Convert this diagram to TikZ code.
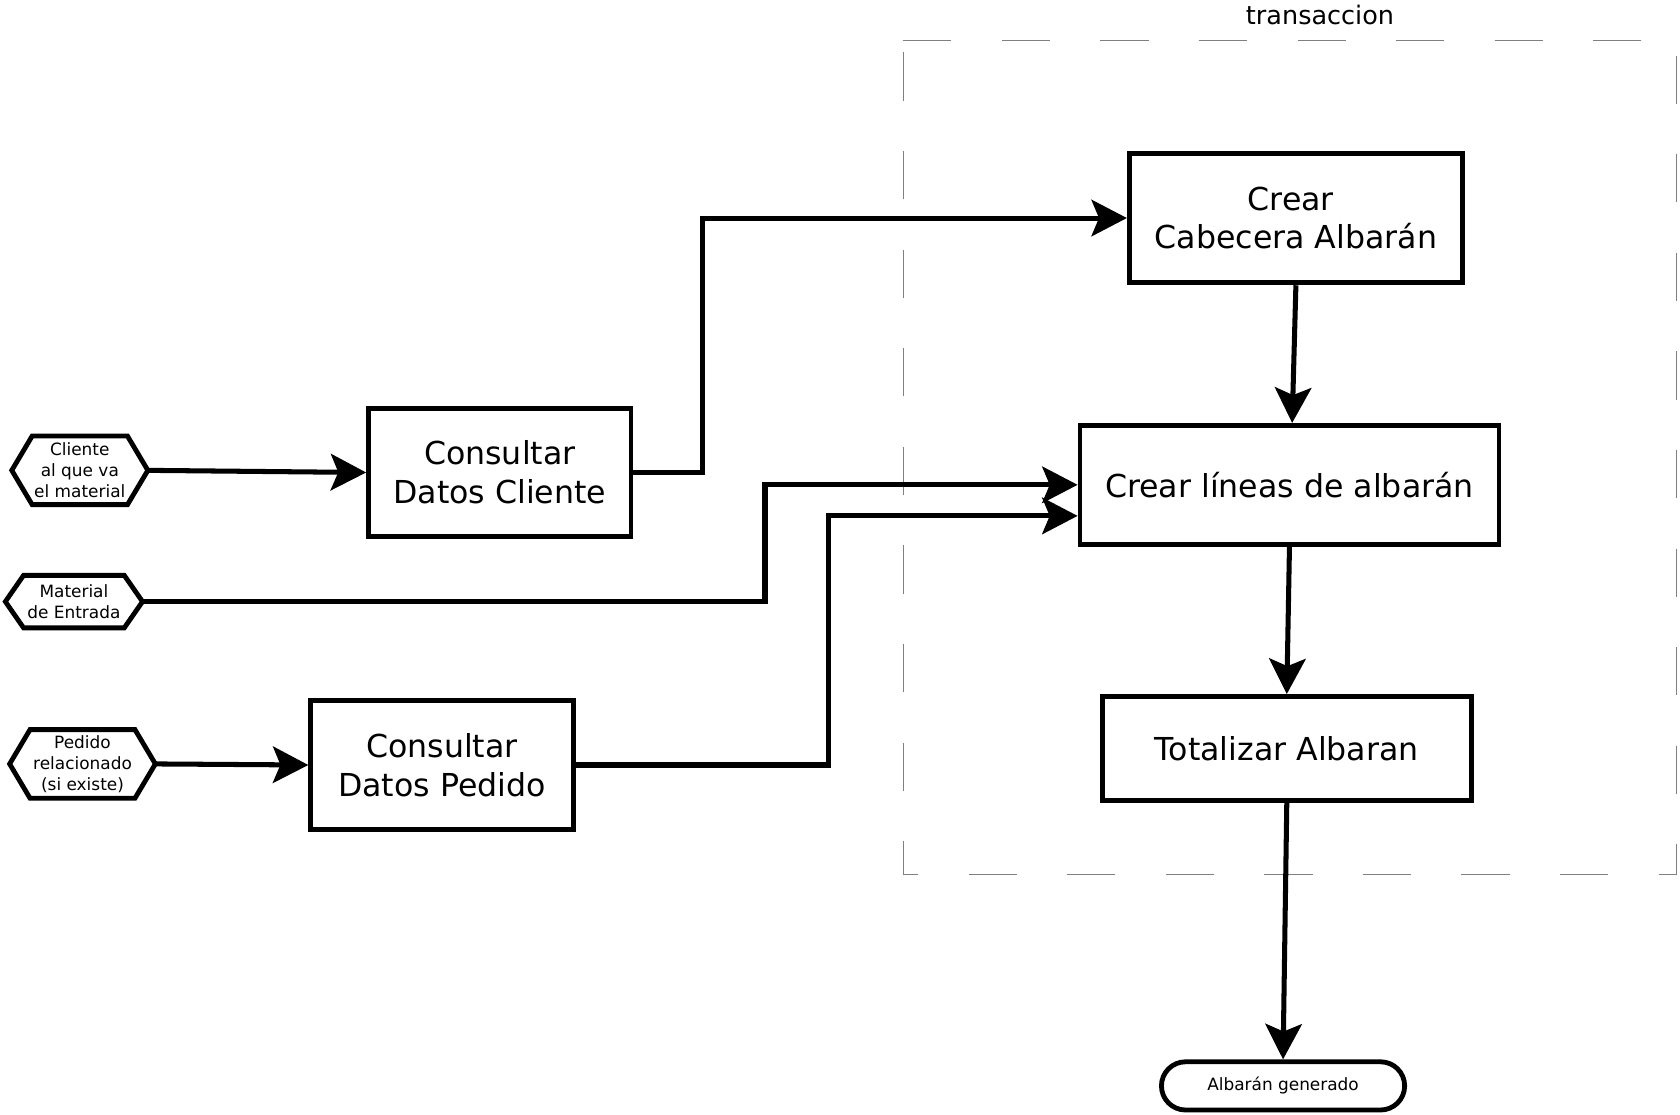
\documentclass[tikz,border=0pt]{standalone}
\usepackage{fontspec}
\setmainfont{DejaVu Sans}
\usetikzlibrary{arrows.meta}
\definecolor{dashgray}{RGB}{127,127,127}
\newcommand\hexoutline[2]{%
  \draw[hexline] (#1.west) -- ([xshift=#2]#1.north west) -- ([xshift=-#2]#1.north east)
    -- (#1.east) -- ([xshift=-#2]#1.south east) -- ([xshift=#2]#1.south west) -- cycle;}
\begin{document}
\begin{tikzpicture}[x=1pt,y=-1pt,
  procbox/.style={draw, line width=4.5pt, inner sep=0pt, align=center,
    font=\fontsize{29.5}{36}\selectfont},
  termbox/.style={draw, line width=4.5pt, inner sep=0pt, rounded corners=22.5pt,
    align=center, font=\fontsize{15.8}{19.5}\selectfont},
  hexnode/.style={inner sep=0pt, outer sep=0pt, align=center,
    font=\fontsize{15.8}{19.5}\selectfont},
  hexline/.style={line width=4.5pt, line join=miter},
  conn/.style={line width=4.7pt, line join=miter,
    -{Stealth[length=33pt,width=34pt,inset=7pt]}},
  transline/.style={draw=dashgray, line width=1pt, dash pattern=on 45pt off 47pt}
]
\useasboundingbox (0,0) rectangle (1568,1040);

% transaction frame
\draw[transline] (843,38) -- (1565,38) -- (1565,816) -- (843,816) -- cycle;
\node[font=\fontsize{23.8}{28}\selectfont] (trl) at (1232,14) {transaccion};

% inputs
\node[hexnode, minimum width=127pt, minimum height=64pt] (h1) at (74.5,439) {Cliente\\al que va\\el material};
\node[hexnode, minimum width=128pt, minimum height=49pt] (h2) at (69,561.5) {Material\\de Entrada};
\node[hexnode, minimum width=136pt, minimum height=64pt] (h3) at (77,713) {Pedido\\relacionado\\(si existe)};
\hexoutline{h1}{19pt}
\hexoutline{h2}{17pt}
\hexoutline{h3}{19pt}

% processes
\node[procbox, minimum width=245pt, minimum height=120pt] (cdc) at (466.5,441) {Consultar\\Datos Cliente};
\node[procbox, minimum width=245pt, minimum height=120pt] (cdp) at (412.5,714) {Consultar\\Datos Pedido};
\node[procbox, minimum width=311pt, minimum height=121pt] (cab) at (1209.5,203.5) {Crear\hspace*{9.4pt}\\Cabecera Albarán};
\node[procbox, minimum width=391pt, minimum height=111pt] (lin) at (1203.5,452.5) {Crear líneas de albarán};
\node[procbox, minimum width=344pt, minimum height=97pt] (tot) at (1201,698.5) {Totalizar Albaran};
\node[termbox, minimum width=227pt, minimum height=45pt] (alb) at (1197.5,1013.5) {Albarán generado};

% bend points
\coordinate (k1) at (656,300);
\coordinate (k2) at (714,500);
\coordinate (k3) at (773,600);

% connectors
\draw[conn] (h1.east) -- (cdc.west);
\draw[conn] (h3.east) -- (cdp.west);
\draw[conn] (cdc.east) -| (k1) |- (cab.west);
\draw[conn] (h2.east) -| (k2) |- (lin.west);
\draw[conn] (cdp.east) -| (k3) |- ([yshift=-29pt]lin.west);
\draw[conn] (cab.south) -- ([xshift=2.5pt]lin.north);
\draw[conn] (lin.south) -- (tot.north);
\draw[conn] (tot.south) -- (alb.north);
\end{tikzpicture}
\end{document}
